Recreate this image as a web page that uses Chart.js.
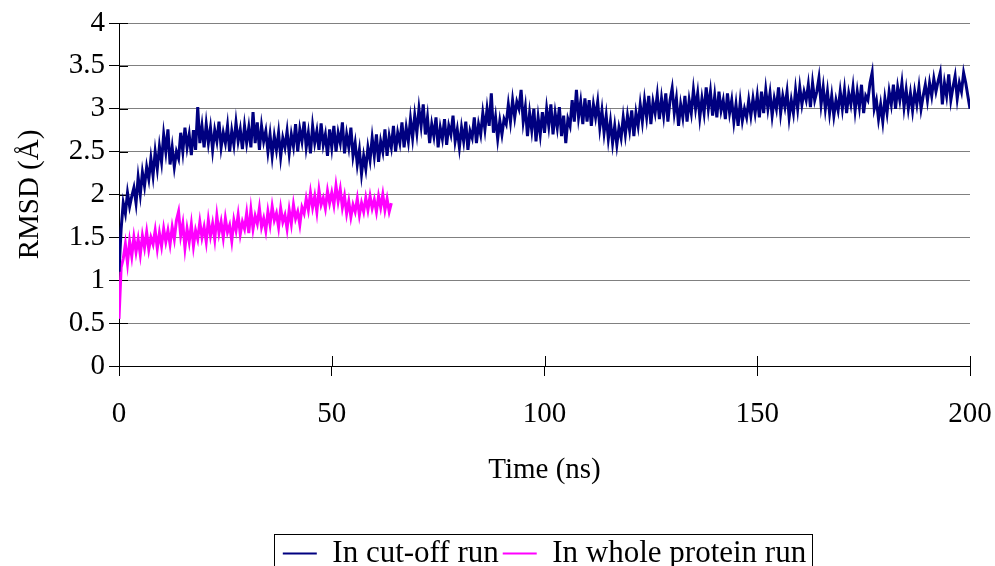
<!DOCTYPE html>
<html>
<head>
<meta charset="utf-8">
<script src="https://cdn.jsdelivr.net/npm/chart.js@4.4.1/dist/chart.umd.min.js"></script>
<style>
  html, body { margin: 0; padding: 0; background: #ffffff; }
  #wrap { width: 995px; height: 566px; }
</style>
</head>
<body>
<div id="wrap"><canvas id="c" width="995" height="566"></canvas></div>
<script>
// ---- data ----
const seriesNames = ["In cut-off run", "In whole protein run"];
const sampleStepNs = 0.5;            // spacing of the samples below, in ns
const xTicks = [0, 50, 100, 150, 200];
const yTicks = [0, 0.5, 1, 1.5, 2, 2.5, 3, 3.5, 4];

// RMSD (Å) of the cut-off run, 0 – 200 ns
const cutoffRun = [
  1.10,1.60,1.90,1.78,2.02,1.86,1.98,2.08,1.90,2.20,2.00,2.26,2.10,2.32,2.18,2.42,2.22,2.50,2.30,2.56,
  2.38,2.70,2.50,2.76,2.35,2.55,2.32,2.50,2.42,2.72,2.50,2.78,2.55,2.70,2.46,2.75,2.52,3.02,2.60,2.80,
  2.55,2.82,2.60,2.78,2.52,2.75,2.62,2.85,2.55,2.72,2.60,2.80,2.50,2.74,2.58,2.84,2.62,2.76,2.53,2.80,
  2.60,2.78,2.55,2.96,2.60,2.84,2.52,2.80,2.62,2.74,2.50,2.70,2.45,2.68,2.52,2.72,2.44,2.66,2.55,2.74,
  2.48,2.70,2.56,2.82,2.50,2.76,2.62,2.85,2.55,2.72,2.48,2.80,2.60,2.74,2.52,2.83,2.58,2.70,2.45,2.76,
  2.55,2.80,2.50,2.72,2.60,2.84,2.48,2.70,2.55,2.78,2.45,2.60,2.35,2.52,2.24,2.45,2.30,2.55,2.40,2.66,
  2.45,2.70,2.38,2.62,2.50,2.76,2.45,2.68,2.55,2.80,2.50,2.72,2.60,2.84,2.55,2.78,2.62,2.88,2.66,2.92,
  2.72,3.00,2.80,3.05,2.70,2.90,2.60,2.82,2.68,2.90,2.55,2.78,2.65,2.88,2.58,2.80,2.70,2.92,2.62,2.76,
  2.55,2.78,2.62,2.85,2.52,2.74,2.66,2.90,2.60,2.82,2.70,2.95,2.76,3.00,2.80,3.18,2.72,2.90,2.65,2.86,
  2.70,2.88,2.82,3.05,2.85,3.10,2.90,3.08,3.00,3.22,2.85,3.02,2.68,2.95,2.75,3.00,2.62,2.90,2.70,2.96,
  2.72,3.00,2.80,3.05,2.70,2.95,2.78,3.02,2.68,2.92,2.60,2.88,2.80,3.10,2.85,3.22,2.90,3.08,2.82,3.12,
  2.85,3.10,2.80,3.05,2.90,3.08,2.78,2.98,2.72,2.92,2.65,2.85,2.60,2.80,2.58,2.78,2.66,2.90,2.70,2.92,
  2.75,2.98,2.68,2.95,2.80,3.05,2.85,3.10,2.90,3.15,2.82,3.08,2.95,3.16,2.88,3.12,2.92,3.18,2.85,3.10,
  3.24,2.95,3.12,2.80,3.05,2.90,3.15,2.85,3.10,2.95,3.22,3.00,3.18,2.90,3.12,2.95,3.25,3.00,3.20,2.92,
  3.15,2.90,3.20,2.98,3.10,2.88,3.18,2.95,3.10,2.85,3.05,2.80,3.08,2.86,3.00,2.90,3.10,2.92,3.12,2.95,
  3.15,2.90,3.20,2.95,3.22,3.00,3.18,2.92,3.12,3.00,3.25,2.95,3.15,3.02,3.20,2.90,3.10,2.95,3.22,3.00,
  3.25,3.05,3.20,3.10,3.28,3.02,3.30,3.10,3.20,3.36,3.05,3.25,3.00,3.20,2.95,3.15,2.92,3.10,2.98,3.20,
  3.00,3.22,2.95,3.18,3.05,3.25,2.98,3.20,3.02,3.28,2.95,3.15,3.10,3.30,3.42,3.00,3.10,2.88,3.05,2.85,
  3.12,2.95,3.20,3.05,3.28,3.00,3.25,3.10,3.30,3.02,3.22,3.00,3.18,2.98,3.20,3.05,3.25,3.00,3.15,3.28,
  3.10,3.30,3.15,3.35,3.20,3.32,3.42,3.05,3.30,3.15,3.40,3.10,3.25,3.38,3.12,3.30,3.20,3.42,3.30,3.15,
  3.00
];

// RMSD (Å) of the whole protein run, 0 – 64 ns
const wholeProteinRun = [
  0.55,1.15,1.25,1.42,1.20,1.45,1.28,1.50,1.33,1.48,1.30,1.52,1.38,1.56,1.36,1.50,1.42,1.58,1.37,1.55,
  1.40,1.60,1.45,1.58,1.42,1.62,1.48,1.70,1.80,1.52,1.66,1.38,1.60,1.45,1.65,1.40,1.58,1.48,1.68,1.50,
  1.62,1.45,1.70,1.52,1.66,1.48,1.75,1.55,1.68,1.50,1.72,1.56,1.64,1.46,1.70,1.58,1.76,1.54,1.68,1.60,
  1.78,1.55,1.82,1.60,1.75,1.66,1.84,1.62,1.72,1.58,1.80,1.65,1.86,1.70,1.78,1.62,1.84,1.68,1.76,1.60,
  1.82,1.66,1.88,1.72,1.80,1.65,1.85,1.78,1.95,1.82,2.02,1.85,1.98,1.80,2.05,1.88,1.96,1.84,2.04,1.90,
  2.02,1.88,2.10,1.92,2.06,1.85,1.98,1.78,1.92,1.74,1.88,1.80,1.95,1.76,1.90,1.80,1.96,1.82,1.98,1.84,
  1.94,1.80,1.98,1.85,2.00,1.82,1.95,1.80,1.90
];

const seriesColors = ["#000080", "#ff00ff"];

// ---- build the chart ----
const toPoints = arr => arr.map((v, i) => ({ x: i * sampleStepNs, y: v }));

const FONT = "'Liberation Serif', 'Times New Roman', serif";
Chart.defaults.color = "#000";
Chart.defaults.font.family = FONT;

const decor = {
  id: "decor",
  beforeDatasetsDraw(chart) {
    const { ctx, chartArea, scales } = chart;
    ctx.save();
    ctx.strokeStyle = "#000";
    ctx.lineWidth = 1;
    ctx.beginPath();
    scales.x.ticks.forEach(t => {
      const px = Math.round(scales.x.getPixelForValue(t.value)) + 0.5;
      ctx.moveTo(px, chartArea.bottom);
      ctx.lineTo(px, chartArea.bottom - 10);
    });
    scales.y.ticks.forEach(t => {
      const py = Math.round(scales.y.getPixelForValue(t.value)) + 0.5;
      ctx.moveTo(chartArea.left, py);
      ctx.lineTo(chartArea.left + 9, py);
    });
    ctx.stroke();
    ctx.restore();
  },
  afterDraw(chart) {
    const lg = chart.legend;
    if (!lg || !lg.legendHitBoxes || !lg.legendHitBoxes.length) return;
    const hb = lg.legendHitBoxes;
    const first = hb[0], last = hb[hb.length - 1];
    const { ctx } = chart;
    ctx.save();
    ctx.strokeStyle = "#000";
    ctx.lineWidth = 1;
    const l = Math.round(first.left - 9) + 0.5;
    const r = Math.round(last.left + last.width + 6) + 0.5;
    const t = Math.round(lg.top) + 0.5;
    ctx.strokeRect(l, t, r - l, chart.height + 10 - t);
    ctx.restore();
  }
};

new Chart(document.getElementById("c"), {
  type: "line",
  data: {
    datasets: [
      {
        label: seriesNames[0],
        data: toPoints(cutoffRun),
        borderColor: seriesColors[0],
        backgroundColor: seriesColors[0],
        borderWidth: 3,
        pointRadius: 0,
        tension: 0,
        fill: false
      },
      {
        label: seriesNames[1],
        data: toPoints(wholeProteinRun),
        borderColor: seriesColors[1],
        backgroundColor: seriesColors[1],
        borderWidth: 3,
        pointRadius: 0,
        tension: 0,
        fill: false
      }
    ]
  },
  options: {
    responsive: false,
    animation: false,
    devicePixelRatio: 1,
    layout: { padding: { top: 23, right: 25, left: 0, bottom: -13 } },
    scales: {
      x: {
        type: "linear",
        min: 0, max: 200,
        afterBuildTicks: s => { s.ticks = xTicks.map(v => ({ value: v })); },
        afterFit: s => { s.height = 168; s.paddingLeft = 0; s.paddingRight = 0; },
        ticks: { font: { size: 29, family: FONT }, padding: 21, maxRotation: 0, callback: v => String(v) },
        grid: { drawOnChartArea: false, drawTicks: true, tickLength: 10, tickColor: "#000" },
        border: { color: "#000", width: 1 },
        title: { display: true, text: "Time (ns)", font: { size: 29, family: FONT }, padding: { top: 0, bottom: 46 } }
      },
      y: {
        type: "linear",
        min: 0, max: 4,
        afterBuildTicks: s => { s.ticks = yTicks.map(v => ({ value: v })); },
        afterFit: s => { s.width = 119; },
        ticks: { font: { size: 29, family: FONT }, padding: 4, callback: v => String(v) },
        grid: { color: "#808080", lineWidth: 1, tickLength: 10, tickColor: "#000" },
        border: { color: "#000", width: 1 },
        title: { display: true, text: "RMSD (Å)", font: { size: 29, family: FONT }, padding: { top: 13, bottom: 0 } }
      }
    },
    plugins: {
      legend: {
        position: "bottom",
        fullSize: false,
        labels: {
          font: { size: 31, family: FONT },
          boxWidth: 34,
          boxHeight: 2,
          padding: 4,
          generateLabels(chart) {
            const items = Chart.defaults.plugins.legend.labels.generateLabels(chart);
            items.forEach(it => { it.lineWidth = 0; });
            return items;
          }
        }
      },
      tooltip: { enabled: false }
    }
  },
  plugins: [decor]
});
</script>
</body>
</html>
